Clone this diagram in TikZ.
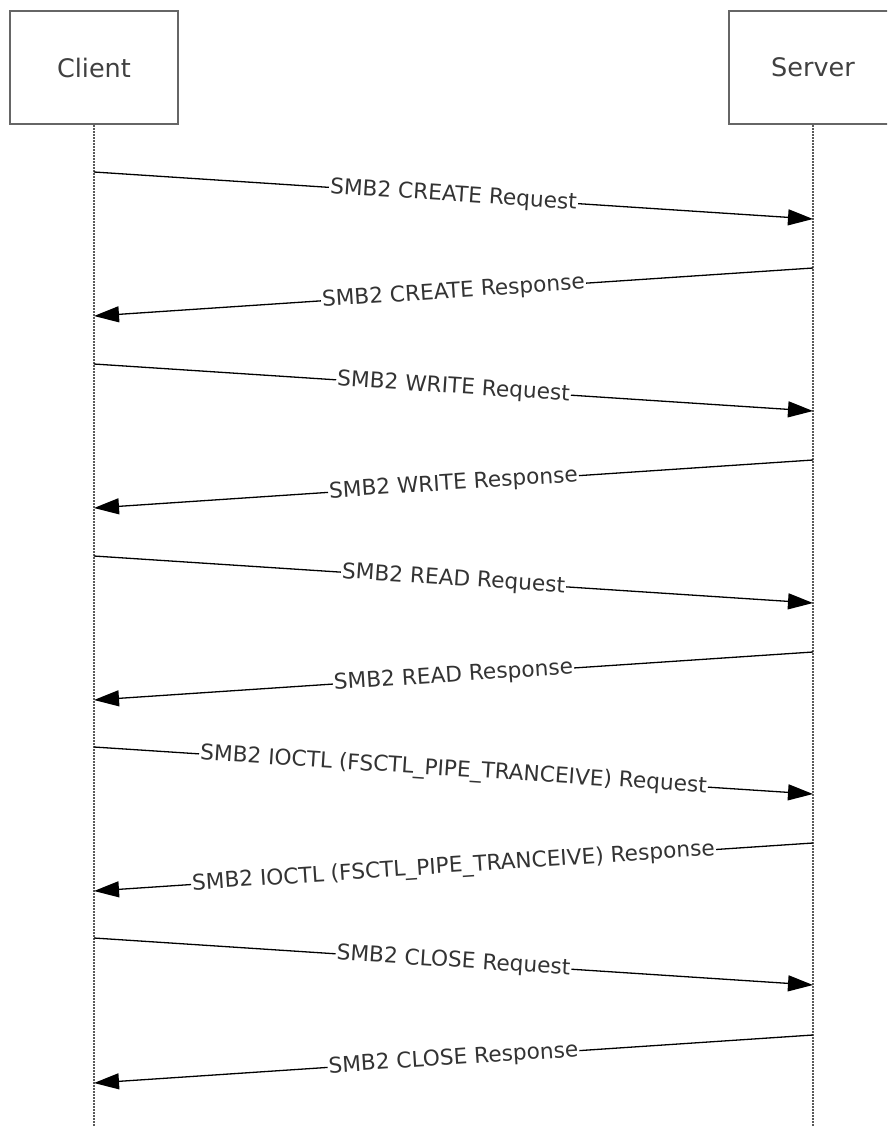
\documentclass[tikz,border=0pt]{standalone}
\usepackage{fontspec}
\setmainfont{DejaVu Sans}
\usetikzlibrary{arrows.meta}

\begin{document}
\begin{tikzpicture}[x=1pt,y=-1pt]
  \clip (0,0) rectangle (887,1127);
  \tikzstyle{actor} = [draw=black!60, line width=2pt, minimum width=168pt, minimum height=113pt, text=black!75, font=\fontsize{25.5}{30}\selectfont];
  \tikzstyle{life} = [black!65, line width=2pt, dash pattern=on 1.5pt off 1.5pt];
  \tikzstyle{msg} = [line width=1.3pt, -{Triangle[length=25pt,width=16pt]}];
  \tikzstyle{lbl} = [midway, sloped, fill=white, inner sep=1pt, text=black!80, font=\fontsize{21.7}{25}\selectfont];
  \node[actor] (client) at (94,67.5) {Client};
  \node[actor] (server) at (813,67.5) {Server};
  \coordinate (cEnd) at (94,1127);
  \coordinate (sEnd) at (813,1127);
  \draw[life] (client.south) -- (cEnd);
  \draw[life] (server.south) -- (sEnd);
  % create
  \coordinate (c1) at (94,172);
  \coordinate (s1) at (813,219);
  \coordinate (s2) at (813,268);
  \coordinate (c2) at (94,316);
  \draw[msg] (c1) -- node[lbl]{SMB2 CREATE Request} (s1);
  \draw[msg] (s2) -- node[lbl]{SMB2 CREATE Response} (c2);
  % write
  \coordinate (c3) at (94,364);
  \coordinate (s3) at (813,411);
  \coordinate (s4) at (813,460);
  \coordinate (c4) at (94,508);
  \draw[msg] (c3) -- node[lbl]{SMB2 WRITE Request} (s3);
  \draw[msg] (s4) -- node[lbl]{SMB2 WRITE Response} (c4);
  % read
  \coordinate (c5) at (94,556);
  \coordinate (s5) at (813,603);
  \coordinate (s6) at (813,652);
  \coordinate (c6) at (94,700);
  \draw[msg] (c5) -- node[lbl]{SMB2 READ Request} (s5);
  \draw[msg] (s6) -- node[lbl]{SMB2 READ Response} (c6);
  % ioctl
  \coordinate (c7) at (94,747);
  \coordinate (s7) at (813,794);
  \coordinate (s8) at (813,843);
  \coordinate (c8) at (94,891);
  \draw[msg] (c7) -- node[lbl]{SMB2 IOCTL (FSCTL\_PIPE\_TRANCEIVE) Request} (s7);
  \draw[msg] (s8) -- node[lbl]{SMB2 IOCTL (FSCTL\_PIPE\_TRANCEIVE) Response} (c8);
  % close
  \coordinate (c9) at (94,938);
  \coordinate (s9) at (813,985);
  \coordinate (s10) at (813,1035);
  \coordinate (c10) at (94,1083);
  \draw[msg] (c9) -- node[lbl]{SMB2 CLOSE Request} (s9);
  \draw[msg] (s10) -- node[lbl]{SMB2 CLOSE Response} (c10);
\end{tikzpicture}
\end{document}
